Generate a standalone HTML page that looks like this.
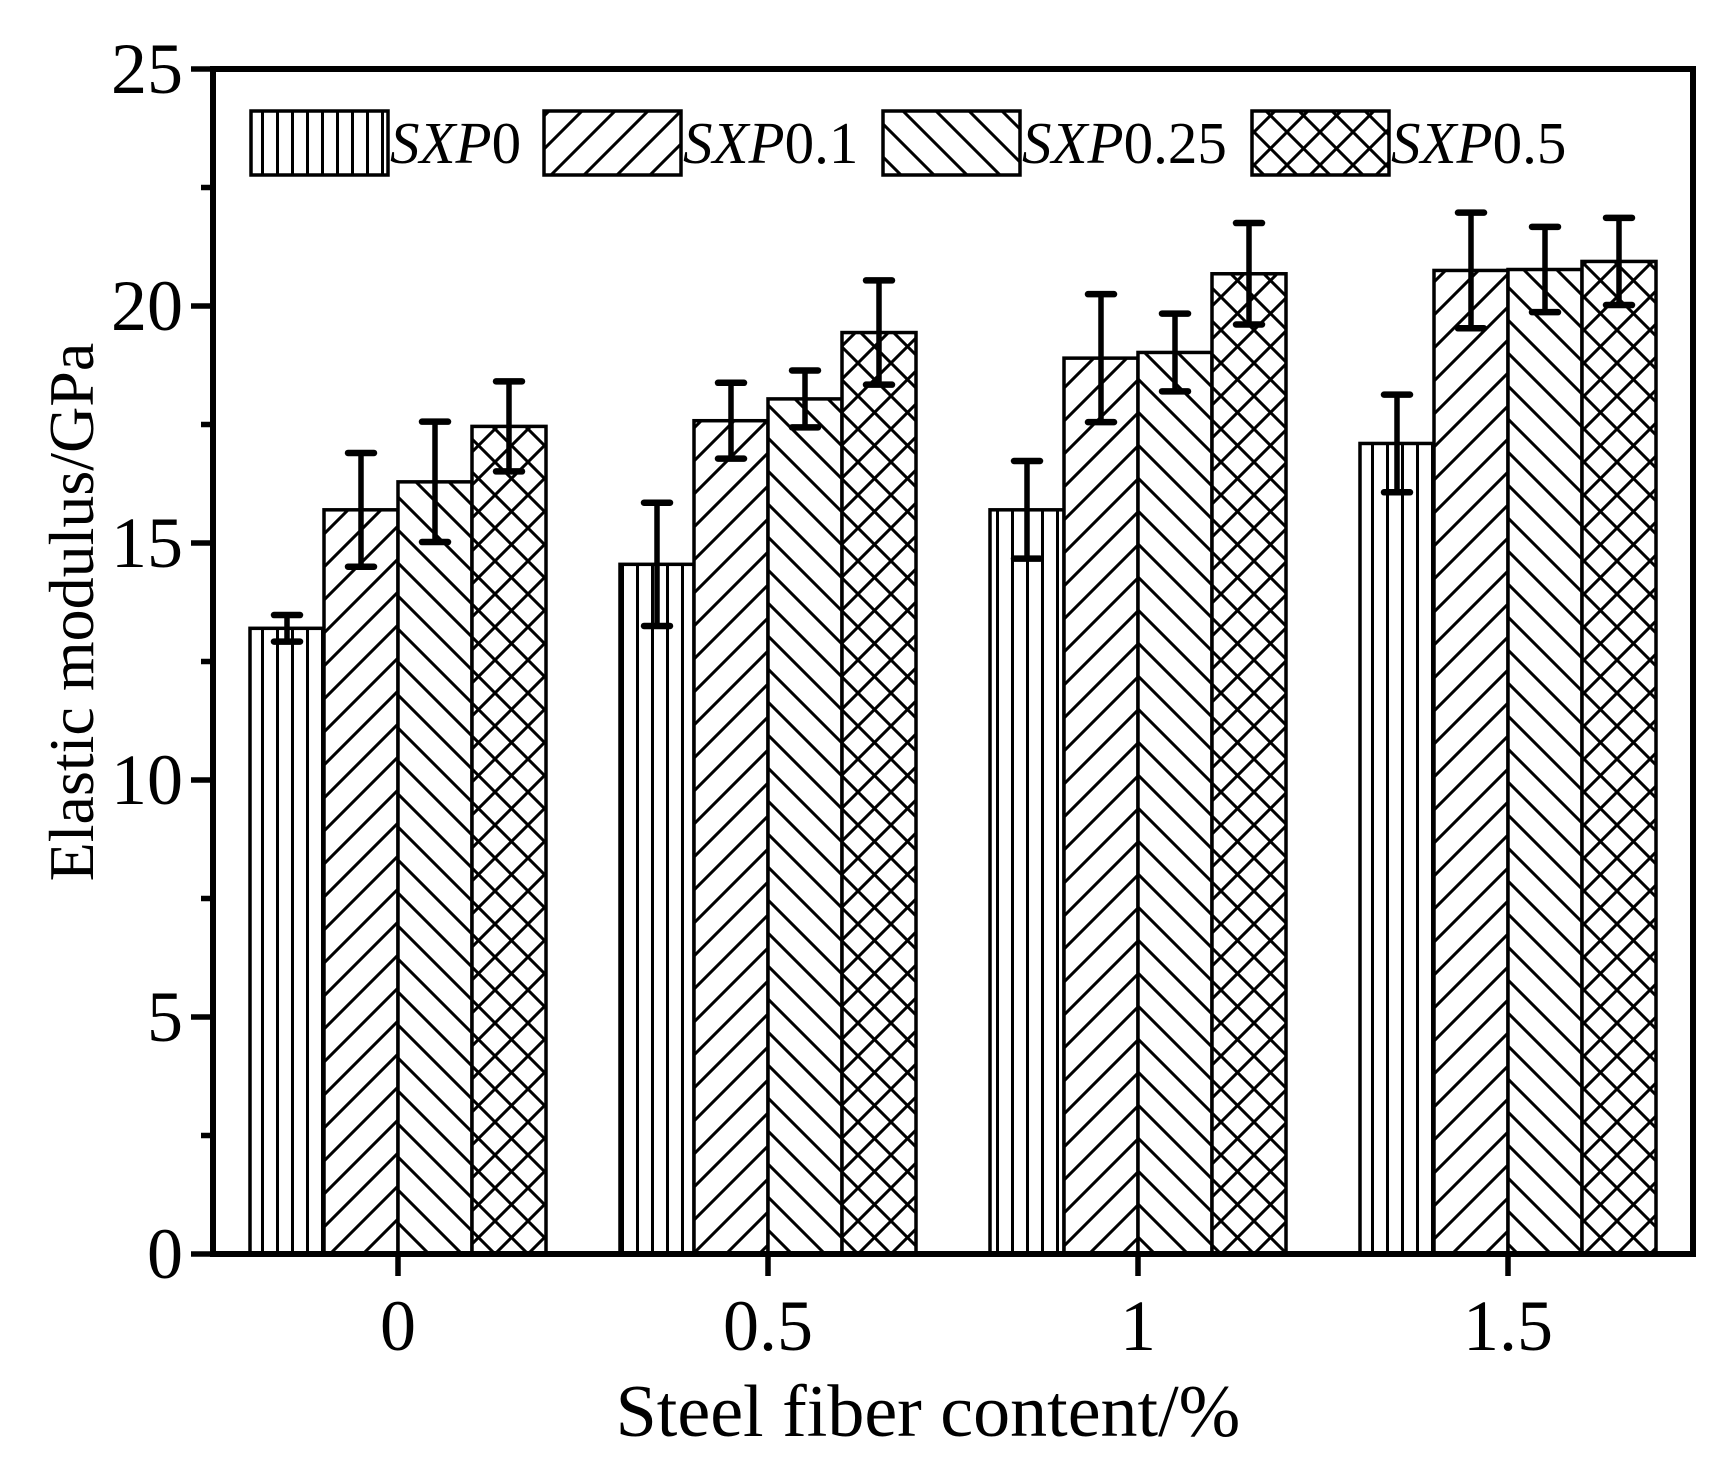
<!DOCTYPE html>
<html><head><meta charset="utf-8"><style>
html,body{margin:0;padding:0;background:#fff;}
svg{display:block;font-family:"Liberation Serif",serif;}
</style></head><body>
<svg id="chart" width="1735" height="1459" viewBox="0 0 1735 1459" xmlns="http://www.w3.org/2000/svg">
<defs>
<pattern id="p0" patternUnits="userSpaceOnUse" width="15" height="20"><rect width="15" height="20" fill="#fff"/><line x1="7.5" y1="0" x2="7.5" y2="20" stroke="#000" stroke-width="3"/></pattern>
<pattern id="p1" patternUnits="userSpaceOnUse" width="33" height="33"><rect width="33" height="33" fill="#fff"/><path d="M-8,8 L8,-8 M0,33 L33,0 M25,41 L41,25" stroke="#000" stroke-width="3"/></pattern>
<pattern id="p2" patternUnits="userSpaceOnUse" width="33" height="33"><rect width="33" height="33" fill="#fff"/><path d="M-8,25 L8,41 M0,0 L33,33 M25,-8 L41,8" stroke="#000" stroke-width="3"/></pattern>
<pattern id="p3" patternUnits="userSpaceOnUse" width="33" height="33"><rect width="33" height="33" fill="#fff"/><path d="M-8,8 L8,-8 M0,33 L33,0 M25,41 L41,25 M-8,25 L8,41 M0,0 L33,33 M25,-8 L41,8" stroke="#000" stroke-width="3"/></pattern>
</defs>
<g id="bars"></g>
<g id="errs"></g>
<g id="axes"></g>
<g id="legend"></g>
</svg>
<script>
const categories = ["0","0.5","1","1.5"];
const catValues = [0,0.5,1,1.5];
const seriesNames = ["SXP0","SXP0.1","SXP0.25","SXP0.5"];
const sxp0 = [13.2,14.55,15.7,17.1];
const sxp01 = [15.7,17.58,18.9,20.75];
const sxp025 = [16.29,18.04,19.02,20.77];
const sxp05 = [17.46,19.44,20.68,20.94];
const err0 = [0.28,1.3,1.03,1.03];
const err01 = [1.2,0.8,1.35,1.22];
const err025 = [1.27,0.6,0.82,0.9];
const err05 = [0.95,1.1,1.07,0.92];
const yTicks = [0,5,10,15,20,25];

const NS="http://www.w3.org/2000/svg";
const L=213,R=1693,T=69,B=1254;
const xs=v=>L+(v+0.25)/2*(R-L);
const ys=v=>B-v/25*(B-T);
function mk(tag,attrs,parent){const e=document.createElementNS(NS,tag);for(const k in attrs)e.setAttribute(k,attrs[k]);parent.appendChild(e);return e;}
const gb=document.getElementById('bars'),ge=document.getElementById('errs'),ga=document.getElementById('axes'),gl=document.getElementById('legend');
const series=[sxp0,sxp01,sxp025,sxp05],errs=[err0,err01,err025,err05];
const bw=0.1;
series.forEach((s,si)=>{
  s.forEach((v,ci)=>{
    const x0=xs(catValues[ci]-0.2+si*bw),x1=xs(catValues[ci]-0.2+(si+1)*bw);
    const r=mk('rect',{x:x0,y:ys(v),width:x1-x0,height:ys(0)-ys(v),fill:'url(#p'+si+')',stroke:'#000','stroke-width':3.5},gb);
    
    
    const cx=(x0+x1)/2,e=errs[si][ci];
    const g=mk('g',{stroke:'#000','stroke-width':5.5,'stroke-linecap':'round'},ge);
    
    
    mk('line',{x1:cx,x2:cx,y1:ys(v+e),y2:ys(v-e)},g);
    mk('line',{x1:cx-13,x2:cx+13,y1:ys(v+e),y2:ys(v+e),'stroke-width':6.5},g);
    mk('line',{x1:cx-13,x2:cx+13,y1:ys(v-e),y2:ys(v-e),'stroke-width':6.5},g);
  });
});
const fr=mk('rect',{x:L,y:T,width:R-L,height:B-T,fill:'none',stroke:'#000','stroke-width':6},ga);


yTicks.forEach(t=>{
  mk('line',{x1:L-22,x2:L,y1:ys(t),y2:ys(t),stroke:'#000','stroke-width':5.5},ga);
  const tx=mk('text',{x:L-30,y:ys(t)+24,'font-size':72,'text-anchor':'end'},ga);
  tx.textContent=t;
  
  
});
for(let t=2.5;t<25;t+=5){mk('line',{x1:L-12,x2:L,y1:ys(t),y2:ys(t),stroke:'#000','stroke-width':5.5},ga);}
catValues.forEach((c,i)=>{
  mk('line',{x1:xs(c),x2:xs(c),y1:B,y2:B+22,stroke:'#000','stroke-width':5.5},ga);
  const tx=mk('text',{x:xs(c),y:1350,'font-size':72,'text-anchor':'middle'},ga);
  tx.textContent=categories[i];
  
  
});
const xt=mk('text',{x:928,y:1436,'font-size':74,'text-anchor':'middle'},ga);
xt.textContent='Steel fiber content/%';


const yt=mk('text',{x:0,y:0,'font-size':64,'text-anchor':'middle',transform:'translate(93,612) rotate(-90)'},ga);
yt.textContent='Elastic modulus/GPa';


const lx=[251,544,883,1252];
seriesNames.forEach((n,i)=>{
  const g=mk('g',{},gl);
  
  
  mk('rect',{x:lx[i],y:111,width:137,height:64,fill:'url(#p'+i+')',stroke:'#000','stroke-width':3.5},g);
  const t=mk('text',{x:lx[i]+139,y:163,'font-size':59},g);
  const s=document.createElementNS(NS,'tspan');s.setAttribute('font-style','italic');s.textContent='SXP';t.appendChild(s);
  t.appendChild(document.createTextNode(n.slice(3)));
});
</script>
</body></html>
